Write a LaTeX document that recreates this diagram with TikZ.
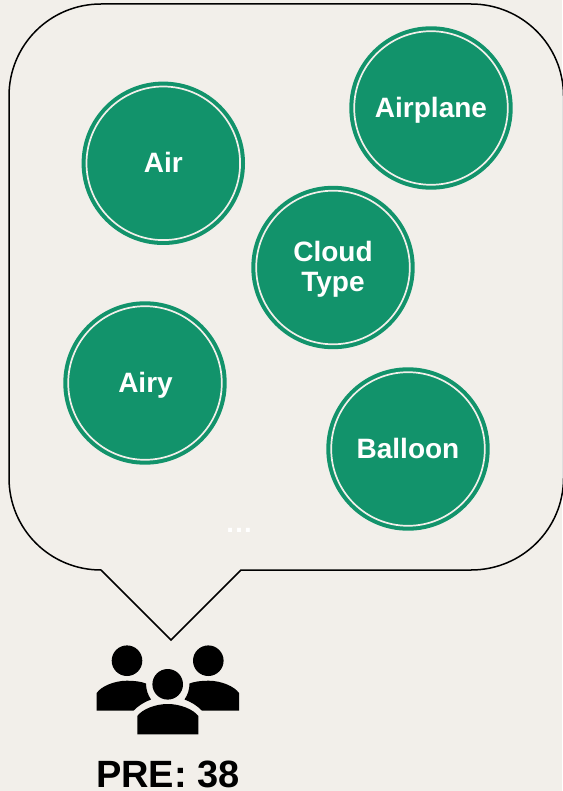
\documentclass[tikz,border=0pt]{standalone}
\usepackage{fontspec}
\setmainfont{Liberation Sans}
\definecolor{bgc}{HTML}{F2EFEA}
\definecolor{grn}{HTML}{12936B}
\tikzset{
  bub/.style={circle,fill=grn,draw=none,minimum size=163.4pt,inner sep=0pt,outer sep=0pt},
  ringline/.style={draw=bgc,line width=1.7pt},
  lab/.style={text=white,font=\fontsize{28}{30}\selectfont\bfseries,inner sep=0pt,anchor=base}
}
\begin{document}
\begin{tikzpicture}[x=1pt,y=-1pt]
\useasboundingbox (0,0) rectangle (562,791);
\fill[bgc] (0,0) rectangle (562,791);
% callout
\draw[black,line width=1.5pt,line join=miter]
  (101,4) -- (471,4) .. controls (522,4) and (563.5,45) .. (563.5,96)
  -- (563.5,478) .. controls (563.5,529) and (522,570) .. (471,570)
  -- (241,570) -- (171,640) -- (101,570)
  .. controls (50,570) and (9,529) .. (9,478)
  -- (9,96) .. controls (9,45) and (50,4) .. (101,4) -- cycle;
% circles
\foreach \n/\x/\y in {air/163.3/163.3,plane/431/108,cloud/333/267.5,airy/145/383,balloon/408/449}{
  \node[bub] (\n) at (\x,\y) {};
  \draw[ringline] (\n.center) circle[radius=76.8pt];
}
\node[lab] (airt) at (163.3,173) {Air};
\node[lab] (planet) at (431,117.7) {Airplane};
\node[lab] (cloudt) at (333,261.7) {Cloud};
\node[lab] (typet) at (333,291.7) {Type};
\node[lab] (airyt) at (145.5,392.7) {Airy};
\node[lab] (balloont) at (408,458.3) {Balloon};
\node[lab] (dots) at (239,532) {…};
% people icon
\fill[black] (127,660.7) circle[radius=15.3pt];
\fill[black] (208.3,660.7) circle[radius=15.3pt];
\fill[black] (167.7,684.3) circle[radius=15.3pt];
% left body
\fill[black] (96.7,710.7) -- (96.7,693) .. controls (101,686.5) and (114,680.7) .. (127,680.7)
  .. controls (134,680.7) and (141,681.5) .. (146,683.5)
  .. controls (146,690) and (148,695) .. (151,699.5)
  .. controls (144,702) and (138,706) .. (133.5,710.7) -- cycle;
% right body
\fill[black] (239,710.7) -- (239,693) .. controls (234.5,686.5) and (221.5,680.7) .. (208.5,680.7)
  .. controls (201.5,680.7) and (194.5,681.5) .. (189.5,683.5)
  .. controls (189.5,690) and (187.5,695) .. (184.5,699.5)
  .. controls (191.5,702) and (197.5,706) .. (202,710.7) -- cycle;
% centre body
\fill[black] (137.3,734.3) -- (137.3,716) .. controls (142,709.5) and (155,704) .. (167.7,704)
  .. controls (180.5,704) and (193.5,709.5) .. (198.3,716) -- (198.3,734.3) -- cycle;
\node[font=\fontsize{38}{40}\selectfont\bfseries,text=black,inner sep=0pt,anchor=base] (pre) at (168,787.5) {PRE: 38};
\end{tikzpicture}
\end{document}
